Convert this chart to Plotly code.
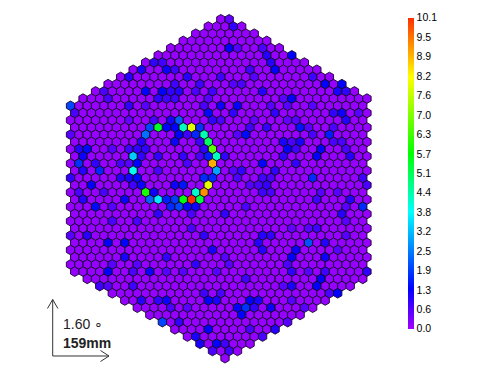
import plotly.graph_objects as go

WIDTH = 498
HEIGHT = 375

# camera layout: first and last pixel offset on each row, in pixel pitches from the centre
row_first = [-0.5, -2, -3.5, -5, -6.5, -8, -9.5, -11, -12.5, -14, -15.5, -17,
             -18.5, -18, -18.5, -18, -18.5, -18, -18.5, -18, -18.5, -18, -18.5, -18,
             -18.5, -18, -18.5, -18, -18.5, -18, -18.5, -18, -18.5, -18, -18.5, -18,
             -16.5, -15, -13.5, -12, -10.5, -9, -7.5, -6, -4.5, -3, -1.5, 0]
row_last = [0.5, 2, 3.5, 5, 6.5, 8, 9.5, 11, 12.5, 14, 15.5, 17,
            16.5, 17, 16.5, 17, 16.5, 17, 16.5, 17, 16.5, 17, 16.5, 17,
            16.5, 17, 16.5, 17, 16.5, 17, 16.5, 17, 16.5, 17, 16.5, 17,
            16.5, 15, 13.5, 12, 10.5, 9, 7.5, 6, 4.5, 3, 1.5, 0]

# most of the camera sits at this charge, the rest is listed per row
background_charge = 0.08
bright_pixels = {
    0: {0.5: 0.5},
    1: {1: 0.9},
    4: {0.5: 1.3, 1.5: 0.6, 4.5: 0.7},
    5: {5: 1.0, 8: 1.3},
    6: {-8.5: 0.9, -7.5: 0.8, 5.5: 1.0},
    7: {-10: 1.1, -7: 1.2, -6: 0.8, 3: 0.8, 6: 1.3},
    8: {-11.5: 1.0, -4.5: 1.0, -0.5: 0.8, 3.5: 0.6, 10.5: 0.8},
    9: {-6: 0.8, -3: 0.8, 1: 0.6, 2: 0.7, 12: 1.3, 14: 1.3},
    10: {-14.5: 0.7, -9.5: 1.3, -7.5: 1.3, -6.5: 0.9, -5.5: 1.0, -3.5: 0.7, -1.5: 0.8,
         4.5: 1.0, 13.5: 1.1, 14.5: 0.9},
    11: {-14: 0.7, -8: 0.9, -7: 0.8, -6: 0.8, -2: 0.6, 7: 0.6, 8: 1.3},
    12: {-18.5: 2.0, -11.5: 0.9, -9.5: 0.6, -2.5: 0.7, -0.5: 1.2, 1.5: 1.3, 5.5: 0.6,
         7.5: 0.6, 10.5: 0.6},
    13: {-18: 0.7, -2: 1.4, 1: 0.9, 6: 0.9, 13: 0.9, 14: 1.2, 16: 0.6},
    14: {-11.5: 0.5, -8.5: 0.7, -6.5: 1.1, -5.5: 2.2, -1.5: 0.9, -0.5: 0.7, 3.5: 0.5,
         7.5: 0.5, 8.5: 0.6, 14.5: 1.0},
    15: {-9: 2.0, -8: 5.4, -7: 1.3, -6: 1.3, -5: 4.3, -4: 7.9, -3: 1.8, 3: 0.8, 5: 0.9,
         9: 1.5, 10: 0.6, 13: 0.7},
    16: {-18.5: 0.6, -9.5: 2.4, -5.5: 1.3, -4.5: 0.8, -3.5: 1.7, -2.5: 4.4, 1.5: 0.6,
         2.5: 1.4, 10.5: 0.7, 12.5: 1.6},
    17: {-10: 1.0, -6: 1.2, -3: 0.8, -2: 5.0, 7: 1.1, 8: 0.7, 9: 1.1, 13: 0.7, 14: 0.7},
    18: {-17.5: 1.0, -16.5: 1.4, -13.5: 0.6, -11.5: 0.8, -10.5: 0.9, -9.5: 0.9, -2.5: 0.9,
         -1.5: 6.6, 7.5: 1.3, 8.5: 0.8, 11.5: 1.3, 14.5: 0.7},
    19: {-17: 1.2, -11: 3.3, -10: 0.9, -8: 0.9, -5: 0.9, -3: 0.7, -2: 1.6, -1: 4.3, 0: 0.9,
         7: 0.9, 11: 1.3, 15: 1.0},
    20: {-17.5: 1.8, -15.5: 0.9, -12.5: 0.7, -11.5: 0.6, -10.5: 1.3, -4.5: 0.7, -1.5: 8.9,
         4.5: 1.3, 8.5: 0.9},
    21: {-17: 1.0, -15: 1.7, -11: 3.9, -8: 0.7, -1: 2.9, 1: 0.6, 2: 0.9, 6: 0.9},
    22: {-18.5: 0.9, -12.5: 1.0, -11.5: 1.1, -10.5: 1.4, -2.5: 1.7, -1.5: 1.7, 1.5: 0.7,
         4.5: 0.8, 5.5: 0.7, 10.5: 1.7, 16.5: 0.8},
    23: {-16: 1.3, -11: 0.8, -10: 1.2, -6: 1.2, -5: 1.5, -2: 7.9, 3: 0.6, 4: 0.7, 5: 0.9,
         17: 0.7},
    24: {-17.5: 0.7, -14.5: 0.7, -9.5: 5.9, -8.5: 1.2, -3.5: 4.2, -2.5: 9.2, 4.5: 0.8,
         5.5: 0.7, 11.5: 0.6, 13.5: 0.6},
    25: {-17: 1.0, -12: 1.2, -9: 2.3, -8: 3.6, -7: 1.6, -6: 1.9, -5: 5.6, -4: 10.1, -3: 5.2,
         11: 0.8, 15: 1.0},
    26: {-15.5: 1.4, -13.5: 0.6, -6.5: 1.7, -5.5: 2.0, -4.5: 1.2, -3.5: 1.2, 2.5: 0.7,
         14.5: 0.6, 16.5: 1.7},
    27: {-8: 0.9, -4: 0.7, 0: 0.9, 14: 1.0},
    28: {-13.5: 0.7, -10.5: 0.7, 14.5: 0.6},
    29: {-4: 0.7, 8: 0.5, 10: 0.6, 11: 0.8},
    30: {-18.5: 0.6, -16.5: 1.0, -2.5: 0.9, 4.5: 1.0, 5.5: 0.9, 14.5: 0.6},
    31: {-14: 1.3, -12: 1.3, 4: 1.0, 10: 2.1, 12: 1.0},
    32: {-1.5: 1.1, 4.5: 1.0, 8.5: 1.2, 13.5: 0.6},
    33: {-12: 1.1, -7: 0.9, 0: 0.6, 8: 1.3, 12: 1.2},
    34: {-13.5: 0.6, -10.5: 0.6, -3.5: 0.9, 0.5: 0.6, 7.5: 0.7},
    35: {-14: 1.3, -11: 0.7, -9: 1.2, -7: 0.6, -5: 0.6, -1: 0.6, 8: 0.9, 10: 0.6, 12: 0.8,
         17: 0.9},
    36: {2.5: 0.8, 11.5: 1.3},
    37: {-15: 0.8, -14: 0.6, -11: 0.8, 7: 0.6, 8: 1.1, 11: 1.3},
    38: {-2.5: 0.8, -0.5: 0.7, 12.5: 0.7, 13.5: 1.3},
    39: {-10: 1.0, -8: 0.9, -7: 1.2, -2: 1.3, -1: 1.1, 3: 1.3, 4: 1.1, 8: 0.6},
    40: {-6.5: 0.7, -4.5: 0.6, 1.5: 1.3, 2.5: 1.8, 3.5: 0.9, 5.5: 1.2, 9.5: 0.6},
    41: {2: 1.3},
    42: {-7.5: 2.0, -5.5: 0.9, 7.5: 0.6},
    43: {-2: 1.3, 3: 0.7, 6: 1.0},
    44: {-3.5: 1.1, 4.5: 0.7},
    45: {-3: 1.1, -1: 1.3, 0: 0.8},
    46: {-1.5: 0.7, 0.5: 0.8},
}

colorbar_ticks = [0.0, 0.63, 1.26, 1.89, 2.53, 3.16, 3.79, 4.42, 5.05, 5.68, 6.31, 6.94, 7.58, 8.21, 8.84, 9.47, 10.1]
colorbar_labels = ["0.0", "0.6", "1.3", "1.9", "2.5", "3.2", "3.8", "4.4", "5.1", "5.7", "6.3", "7.0", "7.6",
                   "8.2", "8.9", "9.5", "10.1"]
charge_max = 10.1

colorscale = [
    [0.0, "#a000ff"],
    [0.13, "#0000ff"],
    [0.376, "#00ffff"],
    [0.564, "#00ff00"],
    [0.81, "#ffff00"],
    [1.0, "#ff3000"],
]

# pixel placement of the camera on the page
centre_x = 225
first_row_y = 19.3
pitch_x = 8.35
pitch_y = 7.21

xs, ys, charges = [], [], []
for row, (first, last) in enumerate(zip(row_first, row_last)):
    listed = bright_pixels.get(row, {})
    n = int(last - first) + 1
    for i in range(n):
        offset = first + i
        xs.append(offset)
        ys.append(row)
        charges.append(listed.get(offset, background_charge))

fig = go.Figure(
    go.Scatter(
        x=xs,
        y=ys,
        mode="markers",
        hoverinfo="skip",
        marker=dict(
            symbol="hexagon",
            size=9.64,
            opacity=1,
            color=charges,
            cmin=0,
            cmax=charge_max,
            colorscale=colorscale,
            line=dict(color="#15052a", width=0.9),
            colorbar=dict(
                tickvals=colorbar_ticks,
                ticktext=colorbar_labels,
                tickfont=dict(family="Liberation Sans", size=10.5, color="#000000"),
                ticks="",
                thickness=6,
                thicknessmode="pixels",
                len=311,
                lenmode="pixels",
                x=408 / WIDTH,
                xanchor="left",
                xpad=0,
                y=1 - 328.8 / HEIGHT,
                yanchor="bottom",
                ypad=0,
                outlinewidth=0,
                borderwidth=0,
            ),
        ),
    )
)


def to_paper(px, py):
    return px / WIDTH, 1 - py / HEIGHT


def polyline(points):
    coords = [to_paper(*p) for p in points]
    path = "M" + " L".join(f"{x:.5f},{y:.5f}" for x, y in coords)
    return dict(type="path", xref="paper", yref="paper", path=path, line=dict(color="#333333", width=1))


# orientation arrows in the lower left corner
shapes = [
    polyline([(52.7, 299.5), (52.7, 356), (109, 356)]),
    polyline([(47.5, 308.5), (52.7, 299.5), (57.9, 308.5)]),
    polyline([(100.5, 350.5), (109, 356), (100.5, 361.5)]),
]

annotations = []
for label, px, py, bold in [("1.60 ∘", 60.5, 324, False), ("159mm", 60.5, 342.7, True)]:
    ax, ay = to_paper(px, py)
    annotations.append(
        dict(
            text=f"<b>{label}</b>" if bold else label,
            x=ax,
            y=ay,
            xref="paper",
            yref="paper",
            xanchor="left",
            yanchor="middle",
            showarrow=False,
            font=dict(family="Liberation Sans", size=14, color="#222222"),
        )
    )

fig.update_layout(
    width=WIDTH,
    height=HEIGHT,
    margin=dict(l=0, r=0, t=0, b=0),
    paper_bgcolor="white",
    plot_bgcolor="white",
    showlegend=False,
    shapes=shapes,
    annotations=annotations,
    xaxis=dict(
        visible=False,
        range=[-centre_x / pitch_x, (WIDTH - centre_x) / pitch_x],
        domain=[0, 1],
    ),
    yaxis=dict(
        visible=False,
        range=[(HEIGHT - first_row_y) / pitch_y, -first_row_y / pitch_y],
        domain=[0, 1],
    ),
)

# the page body has a default margin that would push the figure off its place
fig.write_html("out.html", config={"displayModeBar": False}, post_script="document.body.style.margin='0';")
